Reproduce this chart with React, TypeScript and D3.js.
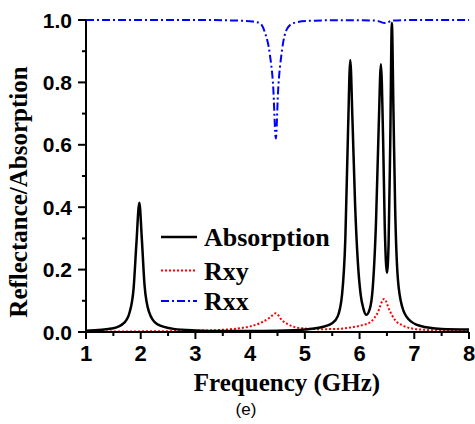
import React from "react";
import * as d3 from "d3";

const absFreq = [1.0, 1.5, 1.7, 1.8, 1.87, 1.92, 1.975, 2.02, 2.07, 2.15, 2.3, 2.6, 3.0, 3.5, 4.0, 4.5, 5.0, 5.3, 5.5, 5.6, 5.68, 5.74, 5.79, 5.83, 5.87, 5.92, 5.97, 6.02, 6.07, 6.12, 6.18, 6.24, 6.3, 6.35, 6.39, 6.43, 6.46, 6.5, 6.53, 6.56, 6.59, 6.62, 6.65, 6.7, 6.78, 6.9, 7.1, 7.5, 8.0];
const absVal = [0.004, 0.012, 0.03, 0.065, 0.14, 0.28, 0.414, 0.3, 0.15, 0.065, 0.025, 0.01, 0.005, 0.003, 0.003, 0.004, 0.008, 0.015, 0.028, 0.05, 0.12, 0.3, 0.65, 0.872, 0.68, 0.4, 0.22, 0.12, 0.075, 0.055, 0.07, 0.14, 0.35, 0.66, 0.858, 0.62, 0.34, 0.19, 0.28, 0.6, 0.99, 0.7, 0.4, 0.17, 0.08, 0.04, 0.02, 0.01, 0.008];

const rxyFreq = [1.0, 2.0, 3.0, 3.5, 3.8, 4.0, 4.2, 4.35, 4.47, 4.58, 4.7, 4.9, 5.3, 5.6, 5.85, 6.05, 6.2, 6.32, 6.45, 6.55, 6.65, 6.8, 7.0, 7.3, 7.7, 8.0];
const rxyVal = [0.001, 0.002, 0.004, 0.007, 0.012, 0.018, 0.03, 0.045, 0.06, 0.038, 0.024, 0.013, 0.009, 0.01, 0.015, 0.022, 0.032, 0.058, 0.106, 0.068, 0.038, 0.02, 0.01, 0.006, 0.003, 0.002];

const rxxFreq = [1.0, 3.0, 3.8, 4.05, 4.18, 4.27, 4.36, 4.42, 4.47, 4.51, 4.58, 4.67, 4.79, 5.03, 5.5, 6.0, 6.3, 6.47, 6.6, 7.0, 8.0];
const rxxVal = [1.0, 1.0, 0.998, 0.995, 0.99, 0.96, 0.89, 0.79, 0.62, 0.77, 0.9, 0.97, 0.99, 0.997, 0.999, 0.999, 0.998, 0.99, 0.998, 1.0, 1.0];

const xTicks = [1, 2, 3, 4, 5, 6, 7, 8];
const xMinor = [1.5, 2.5, 3.5, 4.5, 5.5, 6.5, 7.5];
const yTicks = [0, 0.2, 0.4, 0.6, 0.8, 1.0];
const yMinor = [0.1, 0.3, 0.5, 0.7, 0.9];

const legendItems = ["Absorption", "Rxy", "Rxx"];

export default function App() {
  const x = d3.scaleLinear().domain([1, 8]).range([86, 469]);
  const y = d3.scaleLinear().domain([0, 1]).range([332, 20]);
  const mk = (fs: number[], vs: number[]) =>
    d3
      .line<number>()
      .x((_, i) => x(fs[i]))
      .y((v) => y(v))
      .curve(d3.curveMonotoneX)(vs) || "";

  const tickFont = "'Liberation Sans', Arial, sans-serif";
  const serif = "'Liberation Serif', 'Times New Roman', serif";

  const styles = [
    { stroke: "#000", dash: "none", width: 2.5 },
    { stroke: "#ff0000", dash: "2,2", width: 2 },
    { stroke: "#0000ff", dash: "8,3,2,3", width: 2 },
  ];
  const legendY = [237, 270.5, 301];

  return (
    <svg width={475} height={424} style={{ position: "absolute", left: 0, top: 0, background: "#fff" }}>
      <rect width={475} height={424} fill="#fff" />
      {/* curves */}
      <path d={mk(rxxFreq, rxxVal)} fill="none" stroke={styles[2].stroke} strokeWidth={styles[2].width} strokeDasharray={styles[2].dash} />
      <path d={mk(rxyFreq, rxyVal)} fill="none" stroke={styles[1].stroke} strokeWidth={styles[1].width} strokeDasharray={styles[1].dash} />
      <path d={mk(absFreq, absVal)} fill="none" stroke={styles[0].stroke} strokeWidth={styles[0].width} strokeLinejoin="round" />

      {/* axes */}
      <line x1={x(1)} x2={x(8)} y1={y(0)} y2={y(0)} stroke="#000" strokeWidth={2} />
      <line x1={x(1)} x2={x(1)} y1={y(0)} y2={y(1)} stroke="#000" strokeWidth={2} />
      {xTicks.map((t) => (
        <g key={"xt" + t}>
          <line x1={x(t)} x2={x(t)} y1={y(0)} y2={y(0) + 7} stroke="#000" strokeWidth={2} />
          <text x={x(t)} y={361} textAnchor="middle" fontFamily={tickFont} fontWeight="bold" fontSize={22}>
            {t}
          </text>
        </g>
      ))}
      {xMinor.map((t) => (
        <line key={"xm" + t} x1={x(t)} x2={x(t)} y1={y(0)} y2={y(0) + 4} stroke="#000" strokeWidth={2} />
      ))}
      {yTicks.map((t) => (
        <g key={"yt" + t}>
          <line x1={x(1) - 8} x2={x(1)} y1={y(t)} y2={y(t)} stroke="#000" strokeWidth={2} />
          <text x={72} y={y(t) + 7.5} textAnchor="end" fontFamily={tickFont} fontWeight="bold" fontSize={21}>
            {t.toFixed(1)}
          </text>
        </g>
      ))}
      {yMinor.map((t) => (
        <line key={"ym" + t} x1={x(1) - 4} x2={x(1)} y1={y(t)} y2={y(t)} stroke="#000" strokeWidth={2} />
      ))}

      {/* axis titles */}
      <text x={287} y={391} textAnchor="middle" fontFamily={serif} fontWeight="bold" fontSize={25}>
        Frequency (GHz)
      </text>
      <text transform="translate(27,192) rotate(-90)" textAnchor="middle" fontFamily={serif} fontWeight="bold" fontSize={25}>
        Reflectance/Absorption
      </text>
      <text x={246} y={415} textAnchor="middle" fontFamily={tickFont} fontSize={17}>
        (e)
      </text>

      {/* legend */}
      {legendItems.map((name, i) => (
        <g key={name}>
          <line x1={161} x2={197} y1={legendY[i]} y2={legendY[i]} stroke={styles[i].stroke} strokeWidth={styles[i].width} strokeDasharray={styles[i].dash} />
          <text x={204} y={legendY[i] + 9} fontFamily={serif} fontWeight="bold" fontSize={26}>
            {name}
          </text>
        </g>
      ))}
    </svg>
  );
}
